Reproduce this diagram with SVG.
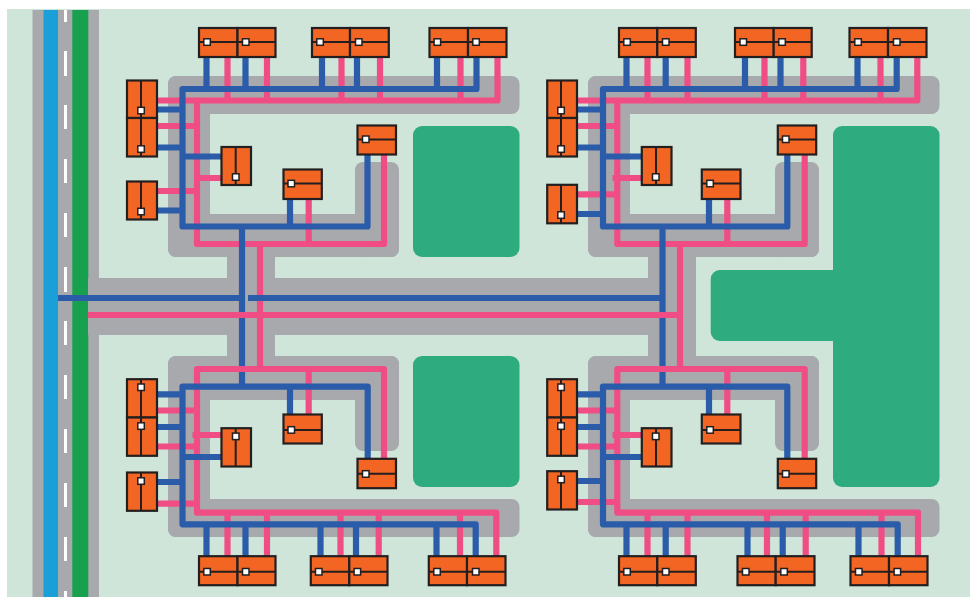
<svg xmlns="http://www.w3.org/2000/svg" width="970" height="597" viewBox="0 0 970 597">
<style>
.g{fill:#a7a9ac}.park{fill:#2eab7f}
.p,.b{fill:none;stroke-width:6.2;stroke-linejoin:round}
.p{stroke:#f04d84}.b{stroke:#2a5caa}
.node rect{fill:#f26522;stroke:#231f20;stroke-width:2.2}
.node path{fill:none;stroke:#231f20;stroke-width:2}
.node rect.s{fill:#fff;stroke-width:1.5;width:6.500px;height:6.500px;transform:translate(-.5px,-.5px)}
</style>
<rect width="970" height="597" fill="#fff"/>
<rect x="7" y="9" width="963" height="588" fill="#cfe5d9"/>
<g id="ground">
<rect class="g" x="32.5" y="10" width="66.5" height="587"/>
<rect x="43.5" y="10" width="14.5" height="587" fill="#1b9fd8"/>
<rect x="72.3" y="10" width="16" height="587" fill="#17a04e"/>
<path fill="none" stroke="#fff" stroke-width="3" d="M65.5 10V22M65.5 51V76M65.5 105V129M65.5 159V183M65.5 213V237M65.5 267V292M65.5 321V345M65.5 375V399M65.5 429V453M65.5 483V507M65.5 537V561M65.5 591V597"/>
<rect class="g" x="88" y="278" width="608" height="57"/>
<rect class="g" x="227" y="250" width="48" height="115"/>
<rect class="g" x="648" y="250" width="48" height="115"/>
<g id="yard-tl"><rect class="g" x="168" y="76" width="351.500" height="38" rx="8"/><rect class="g" x="168" y="76" width="42" height="181" rx="8"/><rect class="g" x="168" y="214" width="231" height="43" rx="8"/><rect class="g" x="355" y="162" width="44" height="95" rx="8"/></g>
<g id="yard-tr"><rect class="g" x="588" y="76" width="351.500" height="38" rx="8"/><rect class="g" x="588" y="76" width="42" height="181" rx="8"/><rect class="g" x="588" y="214" width="231" height="43" rx="8"/><rect class="g" x="775" y="162" width="44" height="95" rx="8"/></g>
<g id="yard-bl"><rect class="g" x="168" y="356" width="231" height="44" rx="8"/><rect class="g" x="168" y="356" width="42" height="181" rx="8"/><rect class="g" x="168" y="499" width="351.500" height="38" rx="8"/><rect class="g" x="355" y="356" width="44" height="95" rx="8"/></g>
<g id="yard-br"><rect class="g" x="588" y="356" width="231" height="44" rx="8"/><rect class="g" x="588" y="356" width="42" height="181" rx="8"/><rect class="g" x="588" y="499" width="351.500" height="38" rx="8"/><rect class="g" x="775" y="356" width="44" height="95" rx="8"/></g>
<rect class="park" x="413" y="126" width="106.500" height="131" rx="9"/>
<rect class="park" x="413" y="356" width="106.500" height="131" rx="9"/>
<rect class="park" x="833" y="126" width="106.500" height="361" rx="9"/>
<rect class="park" x="710.700" y="270" width="200" height="71" rx="9"/>
</g>
<g id="connectors">
<path class="b" d="M242 298V386.700"/>
<path class="b" d="M662.500 298V386.700"/>
<g id="pink">
<path class="p" d="M88 315H680"/>
<path class="p" d="M260 244V369"/>
<path class="p" d="M680 244V369"/>
<path class="p" d="M497.500 58V100.500H197V244H384V155"/>
<path class="p" d="M227.500 58V100.500M267 58V100.500M341.500 58V100.500M380 58V100.500M460.500 58V100.500"/>
<path class="p" d="M157 100.500H197M157 126H197M157 191H197M221 178H197M308.700 198V244"/>
<path class="p" d="M917.300 58V100.500H617.300V244H804.700V155"/>
<path class="p" d="M647.500 58V100.500M687.500 58V100.500M764.500 58V100.500M803.300 58V100.500M880.500 58V100.500"/>
<path class="p" d="M577 100.500H617.300M577 126H617.300M577 194.300H617.300M641.300 178H612.500M727.300 198V244"/>
<path class="p" d="M496.300 556V512.700H197V369H384V458"/>
<path class="p" d="M227.500 556V512.700M267 556V512.700M340.500 556V512.700M378.700 556V512.700M460 556V512.700"/>
<path class="p" d="M157 410.500H197M157 446.500H197M157 503.700H197M221 435H192.500M308.700 414V369"/>
<path class="p" d="M918 556V512.700H617.300V369H804.700V458"/>
<path class="p" d="M647.500 556V512.700M687.500 556V512.700M767 556V512.700M805.700 556V512.700M881.500 556V512.700"/>
<path class="p" d="M577 410.500H617.300M577 446.500H617.300M577 502H617.300M641.300 435H612.500M727.300 414V369"/>
</g>
<g id="blue">
<path class="b" d="M58 298H242M248 298H662.500"/>
<path class="b" d="M242 226.500V298"/>
<path class="b" d="M662.500 226.500V298"/>
<path class="b" d="M476.500 58V89H182.500V226.500H367.500V155"/>
<path class="b" d="M206.500 58V89M245.500 58V89M322 58V89M357 58V89M437 58V89"/>
<path class="b" d="M157 109.500H182.500M157 147.500H182.500M157 210.500H182.500M221 156.500H182.500M290 198V226.500"/>
<path class="b" d="M896.700 58V89H603V226.500H787.300V155"/>
<path class="b" d="M626.500 58V89M665.700 58V89M745 58V89M780.500 58V89M857.500 58V89"/>
<path class="b" d="M577 109.500H603M577 147.500H603M577 214H603M641.300 156.500H603M709 198V226.500"/>
<path class="b" d="M475.700 556V524.300H182.500V386.700H367.700V458"/>
<path class="b" d="M206.500 556V524.300M245.500 556V524.300M320.500 556V524.300M356 556V524.300M436.500 556V524.300"/>
<path class="b" d="M157 394.300H182.500M157 427H182.500M157 482H182.500M221 457H182.500M290 414V386.700"/>
<path class="b" d="M897.700 556V524.300H603V386.700H787.300V458"/>
<path class="b" d="M626.500 556V524.300M665.700 556V524.300M747.500 556V524.300M782.700 556V524.300M858.500 556V524.300"/>
<path class="b" d="M577 394.300H603M577 427H603M577 481H603M641.300 457H603M709 414V386.700"/>
</g>
</g>
<g id="nodes">
<g id="tl-t1" class="node"><rect x="199" y="28" width="38.500" height="29"/><path d="M199 42H237.500"/><rect class="s" x="204.300" y="39.300" width="5.500" height="5.500"/></g>
<g id="tl-t2" class="node"><rect x="237.500" y="28" width="38" height="29"/><path d="M237.500 42H275.500"/><rect class="s" x="243" y="39.300" width="5.500" height="5.500"/></g>
<g id="tl-t3" class="node"><rect x="312" y="28" width="38" height="29"/><path d="M312 42H350"/><rect class="s" x="317.300" y="39.300" width="5.500" height="5.500"/></g>
<g id="tl-t4" class="node"><rect x="350" y="28" width="38.800" height="29"/><path d="M350 42H388.800"/><rect class="s" x="356" y="39.300" width="5.500" height="5.500"/></g>
<g id="tl-t5" class="node"><rect x="429.500" y="28" width="38.500" height="29"/><path d="M429.500 42H468"/><rect class="s" x="434.600" y="39.300" width="5.500" height="5.500"/></g>
<g id="tl-t6" class="node"><rect x="468" y="28" width="38.500" height="29"/><path d="M468 42H506.500"/><rect class="s" x="473.300" y="39.300" width="5.500" height="5.500"/></g>
<g id="tl-l1" class="node"><rect x="127" y="80.500" width="30" height="37.500"/><path d="M141 80.500V118"/><rect class="s" x="138.300" y="107.800" width="5.500" height="5.500"/></g>
<g id="tl-l2" class="node"><rect x="127" y="118" width="30" height="38.500"/><path d="M141 118V156.500"/><rect class="s" x="138.300" y="146.300" width="5.500" height="5.500"/></g>
<g id="tl-l3" class="node"><rect x="127" y="181.500" width="30" height="38"/><path d="M141 181.500V219.500"/><rect class="s" x="138.300" y="208.800" width="5.500" height="5.500"/></g>
<g id="tl-m" class="node"><rect x="221.500" y="147" width="29.500" height="38"/><path d="M235.700 147V185"/><rect class="s" x="233" y="174.300" width="5.500" height="5.500"/></g>
<g id="tl-n2" class="node"><rect x="283.500" y="169.500" width="38.300" height="29.500"/><path d="M283.500 183.500H321.800"/><rect class="s" x="288.500" y="180.800" width="5.500" height="5.500"/></g>
<g id="tl-n3" class="node"><rect x="357.500" y="125.500" width="38.500" height="29"/><path d="M357.500 139.500H396"/><rect class="s" x="363" y="136.500" width="5.500" height="5.500"/></g>

<g id="tr-t1" class="node"><rect x="619" y="28" width="38.300" height="29"/><path d="M619 42H657.300"/><rect class="s" x="624.300" y="39.300" width="5.500" height="5.500"/></g>
<g id="tr-t2" class="node"><rect x="657.300" y="28" width="38.500" height="29"/><path d="M657.300 42H695.800"/><rect class="s" x="663" y="39.300" width="5.500" height="5.500"/></g>
<g id="tr-t3" class="node"><rect x="735" y="28" width="38.700" height="29"/><path d="M735 42H773.700"/><rect class="s" x="740.500" y="39.300" width="5.500" height="5.500"/></g>
<g id="tr-t4" class="node"><rect x="773.700" y="28" width="38" height="29"/><path d="M773.700 42H811.700"/><rect class="s" x="779.300" y="39.300" width="5.500" height="5.500"/></g>
<g id="tr-t5" class="node"><rect x="849.500" y="28" width="38.500" height="29"/><path d="M849.500 42H888"/><rect class="s" x="855.300" y="39.300" width="5.500" height="5.500"/></g>
<g id="tr-t6" class="node"><rect x="888" y="28" width="38.500" height="29"/><path d="M888 42H926.500"/><rect class="s" x="894" y="39.300" width="5.500" height="5.500"/></g>
<g id="tr-l1" class="node"><rect x="547.200" y="80.500" width="29.800" height="37.500"/><path d="M561 80.500V118"/><rect class="s" x="558.300" y="107.800" width="5.500" height="5.500"/></g>
<g id="tr-l2" class="node"><rect x="547.200" y="118" width="29.800" height="38.500"/><path d="M561 118V156.500"/><rect class="s" x="558.300" y="146.300" width="5.500" height="5.500"/></g>
<g id="tr-l3" class="node"><rect x="547.200" y="184.800" width="29.800" height="38.500"/><path d="M561 184.800V223.300"/><rect class="s" x="558.300" y="212.300" width="5.500" height="5.500"/></g>
<g id="tr-m" class="node"><rect x="641.800" y="147" width="29.700" height="38"/><path d="M656 147V185"/><rect class="s" x="653" y="174.300" width="5.500" height="5.500"/></g>
<g id="tr-n2" class="node"><rect x="701.800" y="169.500" width="38.700" height="29.500"/><path d="M701.800 183.500H740.500"/><rect class="s" x="707.300" y="180.800" width="5.500" height="5.500"/></g>
<g id="tr-n3" class="node"><rect x="777.800" y="125.500" width="38.400" height="29"/><path d="M777.800 139.500H816.200"/><rect class="s" x="783" y="136.500" width="5.500" height="5.500"/></g>

<g id="bl-b1" class="node"><rect x="199" y="556.200" width="38.500" height="29"/><path d="M199 571.700H237.500"/><rect class="s" x="204.300" y="569" width="5.500" height="5.500"/></g>
<g id="bl-b2" class="node"><rect x="237.500" y="556.200" width="38" height="29"/><path d="M237.500 571.700H275.500"/><rect class="s" x="243" y="569" width="5.500" height="5.500"/></g>
<g id="bl-b3" class="node"><rect x="310.800" y="556.200" width="38.500" height="29"/><path d="M310.800 571.700H349.300"/><rect class="s" x="316" y="569" width="5.500" height="5.500"/></g>
<g id="bl-b4" class="node"><rect x="349.300" y="556.200" width="38.200" height="29"/><path d="M349.300 571.700H387.500"/><rect class="s" x="354.600" y="569" width="5.500" height="5.500"/></g>
<g id="bl-b5" class="node"><rect x="428.800" y="556.200" width="38.200" height="29"/><path d="M428.800 571.700H467"/><rect class="s" x="434.300" y="569" width="5.500" height="5.500"/></g>
<g id="bl-b6" class="node"><rect x="467" y="556.200" width="38.500" height="29"/><path d="M467 571.700H505.500"/><rect class="s" x="473" y="569" width="5.500" height="5.500"/></g>
<g id="bl-l1" class="node"><rect x="127" y="379.200" width="30" height="38.300"/><path d="M141 379.200V417.500"/><rect class="s" x="138.300" y="384.500" width="5.500" height="5.500"/></g>
<g id="bl-l2" class="node"><rect x="127" y="417.500" width="30" height="38.300"/><path d="M141 417.500V455.800"/><rect class="s" x="138.300" y="423.300" width="5.500" height="5.500"/></g>
<g id="bl-l3" class="node"><rect x="127" y="472.500" width="30" height="38.300"/><path d="M141 472.500V510.800"/><rect class="s" x="138.300" y="478.300" width="5.500" height="5.500"/></g>
<g id="bl-m" class="node"><rect x="221.500" y="428.200" width="29.500" height="38.300"/><path d="M235.700 428.200V466.500"/><rect class="s" x="233" y="433.600" width="5.500" height="5.500"/></g>
<g id="bl-n2" class="node"><rect x="283.500" y="414.500" width="38.300" height="29"/><path d="M283.500 430H321.800"/><rect class="s" x="288.500" y="427.200" width="5.500" height="5.500"/></g>
<g id="bl-n3" class="node"><rect x="357.500" y="458.800" width="38.500" height="29.400"/><path d="M357.500 473.700H396"/><rect class="s" x="363" y="471.200" width="5.500" height="5.500"/></g>

<g id="br-b1" class="node"><rect x="619" y="556.200" width="38.300" height="29"/><path d="M619 571.700H657.300"/><rect class="s" x="624.300" y="569" width="5.500" height="5.500"/></g>
<g id="br-b2" class="node"><rect x="657.300" y="556.200" width="38.500" height="29"/><path d="M657.300 571.700H695.800"/><rect class="s" x="663" y="569" width="5.500" height="5.500"/></g>
<g id="br-b3" class="node"><rect x="737.500" y="556.200" width="38.200" height="29"/><path d="M737.500 571.700H775.700"/><rect class="s" x="743" y="569" width="5.500" height="5.500"/></g>
<g id="br-b4" class="node"><rect x="775.700" y="556.200" width="38.800" height="29"/><path d="M775.700 571.700H814.500"/><rect class="s" x="781.300" y="569" width="5.500" height="5.500"/></g>
<g id="br-b5" class="node"><rect x="850.500" y="556.200" width="38.500" height="29"/><path d="M850.500 571.700H889"/><rect class="s" x="856" y="569" width="5.500" height="5.500"/></g>
<g id="br-b6" class="node"><rect x="889" y="556.200" width="38.500" height="29"/><path d="M889 571.700H927.500"/><rect class="s" x="894.600" y="569" width="5.500" height="5.500"/></g>
<g id="br-l1" class="node"><rect x="547.200" y="379.200" width="29.800" height="38.300"/><path d="M561 379.200V417.500"/><rect class="s" x="558.300" y="384.500" width="5.500" height="5.500"/></g>
<g id="br-l2" class="node"><rect x="547.200" y="417.500" width="29.800" height="38.300"/><path d="M561 417.500V455.800"/><rect class="s" x="558.300" y="423.300" width="5.500" height="5.500"/></g>
<g id="br-l3" class="node"><rect x="547.200" y="471.200" width="29.800" height="38.300"/><path d="M561 471.200V509.500"/><rect class="s" x="558.300" y="476.700" width="5.500" height="5.500"/></g>
<g id="br-m" class="node"><rect x="641.800" y="428.200" width="29.700" height="38.300"/><path d="M656 428.200V466.500"/><rect class="s" x="653" y="433.600" width="5.500" height="5.500"/></g>
<g id="br-n2" class="node"><rect x="701.800" y="414.500" width="38.700" height="29"/><path d="M701.800 430H740.500"/><rect class="s" x="707.300" y="427.200" width="5.500" height="5.500"/></g>
<g id="br-n3" class="node"><rect x="777.800" y="458.800" width="38.400" height="29.400"/><path d="M777.800 473.700H816.200"/><rect class="s" x="783" y="471.200" width="5.500" height="5.500"/></g>
</g>
</svg>
